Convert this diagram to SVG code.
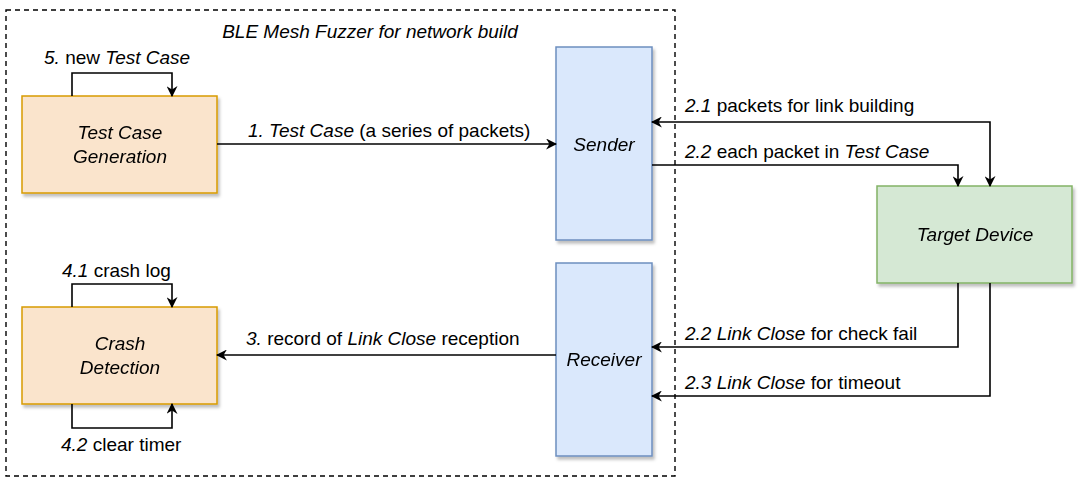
<svg xmlns="http://www.w3.org/2000/svg" width="1080" height="485" viewBox="0 0 1080 485">
<style>
text{font-family:"Liberation Sans",Arial,sans-serif;font-size:19px;fill:#000}
.i{font-style:italic}
.c{text-anchor:middle}
.orange{fill:#fae4cc;stroke:#d79b00;stroke-width:1.5}
.blue{fill:#dae8fc;stroke:#6c8ebf;stroke-width:1.5}
.green{fill:#d5e8d4;stroke:#82b366;stroke-width:1.5}
.edge{fill:none;stroke:#000;stroke-width:1.6;marker-end:url(#ah)}
</style>
<defs>
<marker id="ah" viewBox="0 0 10 10" refX="9" refY="5" markerWidth="11" markerHeight="11" markerUnits="userSpaceOnUse" orient="auto-start-reverse">
<path d="M0,0 L10,5 L0,10 L3,5 Z" fill="#000"/>
</marker>
<filter id="sh" x="-10%" y="-10%" width="130%" height="130%">
<feDropShadow dx="2" dy="3" stdDeviation="1.5" flood-color="#000" flood-opacity="0.25"/>
</filter>
</defs>
<rect width="1080" height="485" fill="#fff"/>
<g id="container">
<rect x="6" y="10" width="669" height="466" fill="none" stroke="#000" stroke-width="1.4" stroke-dasharray="5,4"/>
<text class="i c" x="370" y="38">BLE Mesh Fuzzer for network build</text>
</g>
<g id="tcg" filter="url(#sh)">
<rect class="orange" x="22" y="96" width="195" height="97"/>
<text class="i c" x="120" y="139">Test Case</text>
<text class="i c" x="120" y="163">Generation</text>
</g>
<g id="crash" filter="url(#sh)">
<rect class="orange" x="22" y="307" width="195" height="97"/>
<text class="i c" x="120" y="350">Crash</text>
<text class="i c" x="120" y="374">Detection</text>
</g>
<g id="sender" filter="url(#sh)">
<rect class="blue" x="556" y="47" width="96" height="193"/>
<text class="i c" x="604" y="151">Sender</text>
</g>
<g id="receiver" filter="url(#sh)">
<rect class="blue" x="556" y="263" width="96" height="193"/>
<text class="i c" x="604" y="366">Receiver</text>
</g>
<g id="target" filter="url(#sh)">
<rect class="green" x="877" y="186" width="195" height="97"/>
<text class="i c" x="975" y="241">Target Device</text>
</g>
<g id="connectors">
<path class="edge" d="M217,144 L556,144"/>
<path class="edge" d="M72,96 L72,73 L172,73 L172,96"/>
<path class="edge" d="M72,307 L72,284 L172,284 L172,307"/>
<path class="edge" d="M72,404 L72,428 L172,428 L172,404"/>
<path class="edge" d="M556,355 L217,355"/>
<path class="edge" style="marker-start:url(#ah)" d="M990,186 L990,122 L652,122"/>
<path class="edge" d="M652,165 L958,165 L958,186"/>
<path class="edge" d="M958,283 L958,347 L652,347"/>
<path class="edge" d="M990,283 L990,396 L652,396"/>
</g>
<g id="labels">
<text x="248" y="137"><tspan class="i">1. Test Case</tspan> (a series of packets)</text>
<text x="44" y="64"><tspan class="i">5.</tspan> new <tspan class="i">Test Case</tspan></text>
<text x="62" y="277"><tspan class="i">4.1</tspan> crash log</text>
<text x="61" y="451"><tspan class="i">4.2</tspan> clear timer</text>
<text x="246" y="345"><tspan class="i">3.</tspan> record of <tspan class="i">Link Close</tspan> reception</text>
<text x="685" y="112"><tspan class="i">2.1</tspan> packets for link building</text>
<text x="685" y="158"><tspan class="i">2.2</tspan> each packet in <tspan class="i">Test Case</tspan></text>
<text x="685" y="340"><tspan class="i">2.2 Link Close</tspan> for check fail</text>
<text x="685" y="389"><tspan class="i">2.3 Link Close</tspan> for timeout</text>
</g>
</svg>
